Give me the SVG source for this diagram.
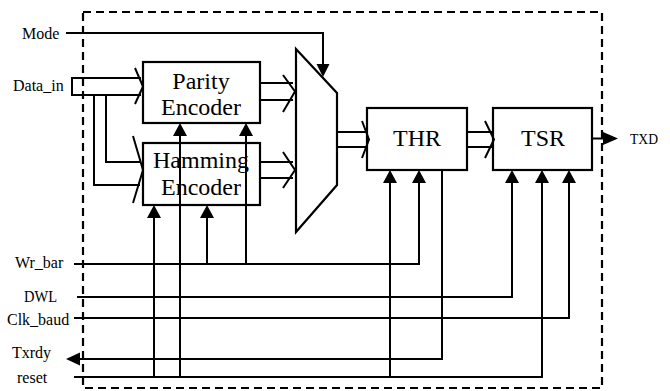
<svg xmlns="http://www.w3.org/2000/svg" xmlns:xlink="http://www.w3.org/1999/xlink" width="670" height="391" viewBox="0 0 670 391">
<style>
.box{fill:#fff;stroke:#000;stroke-width:2.2}
.ln{fill:none;stroke:#000;stroke-width:2;stroke-linejoin:miter}
.ah{fill:#000;stroke:none}
.bt{font-family:"Liberation Serif","Times New Roman",serif;font-size:24px;fill:#000;text-anchor:middle}
.lb{font-family:"Liberation Serif","Times New Roman",serif;font-size:16px;fill:#000}
.dash{fill:none;stroke:#000;stroke-width:2.2;stroke-dasharray:8 5}
</style>
<defs>
<polygon id="ahUp" points="0,0 -7,13 7,13"/>
</defs>
<rect class="dash" x="83" y="12" width="519" height="376"/>
<g id="parity">
<rect class="box" x="143" y="62" width="117" height="61"/>
<text class="bt" x="201" y="89">Parity</text>
<text class="bt" x="201" y="115">Encoder</text>
</g>
<g id="hamming">
<rect class="box" x="143" y="143" width="117" height="62"/>
<text class="bt" x="201" y="168">Hamming</text>
<text class="bt" x="201" y="195">Encoder</text>
</g>
<g id="mux">
<polygon class="box" points="296,49 337,93 337,185 296,232"/>
</g>
<g id="thr">
<rect class="box" x="367" y="108" width="100" height="62"/>
<text class="bt" x="417" y="146">THR</text>
</g>
<g id="tsr">
<rect class="box" x="493" y="108" width="99" height="62"/>
<text class="bt" x="543" y="146">TSR</text>
</g>
<g id="labels">
<text class="lb" x="22" y="39">Mode</text>
<text class="lb" x="13" y="91">Data_in</text>
<text class="lb" x="15" y="268">Wr_bar</text>
<text class="lb" x="24" y="302" textLength="33" lengthAdjust="spacingAndGlyphs">DWL</text>
<text class="lb" x="7" y="325">Clk_baud</text>
<text class="lb" x="12" y="358">Txrdy</text>
<text class="lb" x="17" y="383">reset</text>
<text class="lb" x="630" y="144" style="font-size:14px" textLength="28" lengthAdjust="spacingAndGlyphs">TXD</text>
</g>
<g id="connectors">
<!-- Mode -->
<polyline class="ln" points="66,33 323,33 323,66"/>
<polygon class="ah" points="323,77 316.5,64 329.5,64"/>
<!-- Data_in bus to Parity -->
<polyline class="ln" points="141,78 72,78 72,95 141,95"/>
<polyline class="ln" points="135,68 143,86.5 135,104"/>
<!-- Data_in branch to Hamming -->
<polyline class="ln" points="106,95 106,162 140,162"/>
<polyline class="ln" points="94,95 94,185 140,185"/>
<polyline class="ln" points="133,136 143,170 133,203"/>
<!-- Parity to mux -->
<line class="ln" x1="260" y1="83" x2="293" y2="83"/>
<line class="ln" x1="260" y1="100" x2="293" y2="100"/>
<polyline class="ln" points="283,75 295,91.5 283,112"/>
<!-- Hamming to mux -->
<line class="ln" x1="260" y1="162" x2="293" y2="162"/>
<line class="ln" x1="260" y1="178" x2="293" y2="178"/>
<polyline class="ln" points="283,152 295,170 283,188"/>
<!-- mux to THR -->
<line class="ln" x1="337" y1="132" x2="367" y2="132"/>
<line class="ln" x1="337" y1="147" x2="367" y2="147"/>
<polyline class="ln" points="362,121 369,139.5 362,158"/>
<!-- THR to TSR -->
<line class="ln" x1="467" y1="132" x2="492" y2="132"/>
<line class="ln" x1="467" y1="147" x2="492" y2="147"/>
<polyline class="ln" points="485,121 494,139.5 485,158"/>
<!-- TSR to TXD -->
<line class="ln" x1="592" y1="138.5" x2="604" y2="138.5"/>
<polygon class="ah" points="618,138.5 603,132 603,145"/>
<!-- Wr_bar -->
<line class="ln" x1="74" y1="264" x2="420" y2="264"/>
<line class="ln" x1="207" y1="264" x2="207" y2="216"/>
<use href="#ahUp" xlink:href="#ahUp" class="ah" x="207" y="205"/>
<line class="ln" x1="246" y1="265" x2="246" y2="134"/>
<use href="#ahUp" xlink:href="#ahUp" class="ah" x="246" y="123"/>
<line class="ln" x1="419" y1="265" x2="419" y2="181"/>
<use href="#ahUp" xlink:href="#ahUp" class="ah" x="419" y="170"/>
<!-- DWL -->
<line class="ln" x1="77" y1="297" x2="513" y2="297"/>
<line class="ln" x1="512" y1="298" x2="512" y2="181"/>
<use href="#ahUp" xlink:href="#ahUp" class="ah" x="512" y="170"/>
<!-- Clk_baud -->
<line class="ln" x1="74" y1="318" x2="570" y2="318"/>
<line class="ln" x1="569" y1="319" x2="569" y2="181"/>
<use href="#ahUp" xlink:href="#ahUp" class="ah" x="569" y="170"/>
<!-- Txrdy -->
<polyline class="ln" points="442,170 442,359 79,359"/>
<polygon class="ah" points="66,359 80,352.5 80,365.5"/>
<!-- reset -->
<line class="ln" x1="74" y1="377" x2="543" y2="377"/>
<line class="ln" x1="154" y1="378" x2="154" y2="216"/>
<use href="#ahUp" xlink:href="#ahUp" class="ah" x="154" y="205"/>
<line class="ln" x1="180" y1="378" x2="180" y2="134"/>
<use href="#ahUp" xlink:href="#ahUp" class="ah" x="180" y="123"/>
<line class="ln" x1="390" y1="378" x2="390" y2="181"/>
<use href="#ahUp" xlink:href="#ahUp" class="ah" x="390" y="170"/>
<line class="ln" x1="542" y1="378" x2="542" y2="181"/>
<use href="#ahUp" xlink:href="#ahUp" class="ah" x="542" y="170"/>
</g>
</svg>
